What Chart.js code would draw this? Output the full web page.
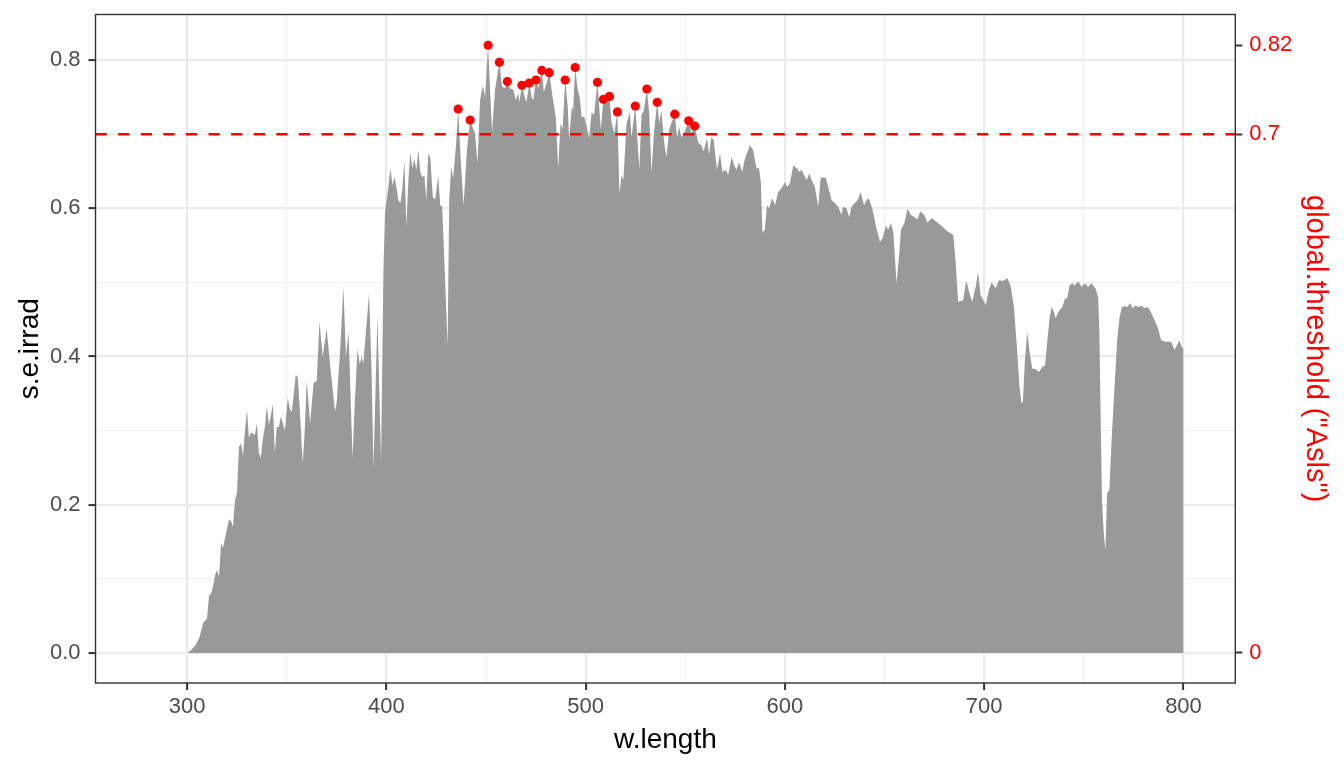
<!DOCTYPE html>
<html><head><meta charset="utf-8">
<script src="https://cdn.jsdelivr.net/npm/chart.js@4.4.1/dist/chart.umd.min.js"></script>
<style>html,body{margin:0;padding:0;background:#fff;}</style>
</head><body>
<canvas id="c" width="1344" height="768"></canvas>
<script>
// ---- data ----
const wavelength = [280,300,302,304,306,308,310,311,312,313,314,315,316,317,318,319,321,322,323,324,325,326,327,328,329,330,331,332,333,334,335,336,337,338,339,340,341,342,343,344,345,346,347,348,349,350.5,351.5,352.5,353.5,354.5,355.5,356.5,358,359,360,361.7,363.4,365,366.4,368,370,372,374.2,375,376.7,378.4,379.7,381,383,384,385.5,386.6,387.6,388.4,389.6,391.3,392.5,393.5,395.5,397.3,398.5,399.3,400.8,402,403,404,405,406,407,408,409,410,411,412,413,414,415,416,417,418,419,420,421,422,423.3,424.5,426,427,428,429,430.7,431.5,432.5,433.5,435,436,437.5,438.7,440.4,442,443.4,444.5,445.7,447,448.4,449.5,451,453,454.5,456.7,458,459.5,460.7,462,463.7,465,466.2,466.7,468,469.5,470.3,471.7,473,473.7,475,476.2,478,479,480.4,481.7,483.4,485,486.2,487.4,488.4,489.7,491,491.7,493,493.7,494.7,496,497,498,499.2,500.5,501.7,503,504.2,505.9,507.6,508.9,510.1,511.9,513,514.4,515.9,516.9,518,518.9,520.5,522.2,523,524.9,526.9,528,529.2,530.7,531.9,533,534.3,535.9,536.9,538,539.4,540.5,541.9,543,544.7,545.9,546.9,548,549.7,551.7,553,554.7,556.4,558,559.2,560.9,561.9,563,564.2,565.9,567.4,568.7,570.4,571.5,573.2,574.5,575.7,577,578.5,579.9,582.4,584,585.7,587,587.9,588.7,589.9,591,592,593.6,595,596.6,598.3,600,601.2,602.5,604.2,605.9,607.2,608.4,609.6,610.9,612.2,613.4,615,616.7,617.9,619.2,620.5,621.7,623.4,625,626.7,628.4,629.2,630.9,632.2,633.4,635,636.4,638,639.7,641,642,644,645.7,647.7,649,650.7,651.7,653.2,654.4,656,657.4,658.2,659.9,661.5,663.2,664.9,666.5,667.9,669.9,671.5,673.7,676.5,679,681.5,684.5,685.7,686.9,688.2,689.4,691,692.4,694,695.7,696.9,698.2,700.7,702.4,703.7,705.7,707.4,709.4,711.5,713.2,714.9,716.5,717.7,718.7,719.4,720.4,721.6,722.8,724.1,725.8,727.5,729.1,730.5,731.7,732.8,733.8,735,735.8,737.2,739.2,740.5,741.7,742.8,744.1,745.5,747.1,748.8,750.5,752.1,753.8,755.8,757.2,757.8,758.3,759.1,760,760.8,761.7,762.8,764.1,765.5,766.7,767.9,769.1,770.5,771.7,773.3,774.5,775.8,777.5,778.8,780.5,782.1,783.8,785.5,787.2,788.8,790.8,792.5,793.8,795.5,796.7,797.9,799.2,800];
const irradiance = [0,0,0.004,0.01,0.02,0.04,0.047,0.078,0.08,0.09,0.105,0.112,0.103,0.148,0.142,0.155,0.18,0.178,0.17,0.206,0.216,0.278,0.283,0.266,0.3,0.328,0.29,0.298,0.296,0.294,0.31,0.27,0.263,0.29,0.305,0.333,0.308,0.32,0.336,0.27,0.305,0.305,0.319,0.31,0.3,0.344,0.33,0.325,0.35,0.375,0.372,0.33,0.256,0.3,0.368,0.31,0.364,0.367,0.447,0.4,0.437,0.382,0.326,0.337,0.405,0.494,0.4,0.433,0.263,0.33,0.41,0.39,0.4,0.39,0.43,0.485,0.386,0.25,0.455,0.26,0.517,0.595,0.625,0.654,0.631,0.642,0.629,0.611,0.607,0.627,0.665,0.575,0.638,0.676,0.654,0.667,0.652,0.679,0.649,0.642,0.645,0.611,0.674,0.669,0.615,0.612,0.644,0.604,0.602,0.534,0.415,0.611,0.656,0.641,0.688,0.734,0.656,0.604,0.679,0.719,0.708,0.701,0.66,0.746,0.766,0.75,0.82,0.703,0.76,0.797,0.764,0.762,0.771,0.762,0.76,0.746,0.755,0.743,0.766,0.749,0.743,0.769,0.749,0.746,0.773,0.762,0.786,0.757,0.769,0.783,0.75,0.723,0.654,0.715,0.706,0.773,0.737,0.692,0.737,0.732,0.79,0.76,0.75,0.723,0.724,0.71,0.695,0.73,0.726,0.77,0.706,0.747,0.742,0.751,0.715,0.701,0.73,0.62,0.645,0.638,0.715,0.73,0.696,0.738,0.652,0.726,0.732,0.761,0.728,0.648,0.703,0.743,0.715,0.732,0.688,0.669,0.706,0.715,0.727,0.696,0.71,0.696,0.703,0.718,0.701,0.711,0.689,0.685,0.677,0.695,0.672,0.696,0.692,0.652,0.674,0.649,0.652,0.645,0.669,0.658,0.652,0.662,0.649,0.667,0.685,0.679,0.654,0.654,0.635,0.567,0.571,0.604,0.6,0.614,0.604,0.622,0.627,0.635,0.629,0.634,0.658,0.654,0.649,0.652,0.645,0.638,0.647,0.638,0.629,0.602,0.641,0.642,0.641,0.629,0.611,0.607,0.602,0.591,0.602,0.6,0.588,0.602,0.607,0.611,0.622,0.604,0.611,0.614,0.598,0.575,0.555,0.56,0.577,0.571,0.58,0.567,0.499,0.54,0.571,0.58,0.599,0.591,0.588,0.585,0.596,0.591,0.581,0.587,0.581,0.575,0.569,0.564,0.526,0.474,0.475,0.476,0.503,0.487,0.474,0.494,0.514,0.483,0.47,0.49,0.5,0.492,0.503,0.502,0.506,0.496,0.467,0.409,0.359,0.337,0.339,0.395,0.433,0.405,0.384,0.383,0.379,0.386,0.388,0.422,0.452,0.467,0.46,0.452,0.46,0.467,0.478,0.479,0.496,0.499,0.496,0.502,0.494,0.499,0.494,0.499,0.492,0.48,0.432,0.341,0.206,0.162,0.139,0.216,0.22,0.297,0.364,0.422,0.453,0.467,0.468,0.467,0.472,0.465,0.469,0.467,0.469,0.465,0.467,0.459,0.449,0.438,0.422,0.42,0.42,0.42,0.409,0.415,0.422,0.413,0.41];
const peakWavelength = [436,442,451,456.7,460.7,468,471.7,475,478,481.7,489.7,494.7,505.9,508.9,511.9,515.9,524.9,530.7,535.9,544.7,551.7,554.7];
const peakValue = [0.734,0.719,0.82,0.797,0.771,0.766,0.769,0.773,0.786,0.783,0.773,0.79,0.77,0.747,0.751,0.73,0.738,0.761,0.743,0.727,0.718,0.711];
const threshold = 0.7;
const xMajor = [300,400,500,600,700,800];
const xMinor = [350,450,550,650,750];
const yMajor = [0,0.2,0.4,0.6,0.8];
const yMinor = [0.1,0.3,0.5,0.7];
const rightTicks = [0,0.7,0.82];

// ---- chart ----
Chart.defaults.font.family = "'Liberation Sans', Arial, sans-serif";
const specData = wavelength.map((w,i)=>({x:w,y:irradiance[i]}));
const peakData = peakWavelength.map((w,i)=>({x:w,y:peakValue[i]}));
const X_MIN = 254, X_MAX = 826, Y_MIN = -0.0405, Y_MAX = 0.8615;
const hlineData = [{x:X_MIN,y:threshold},{x:X_MAX,y:threshold}];

const tickify = arr => arr.slice().sort((a,b)=>a-b).map(v=>({value:v}));
const isMajorX = v => xMajor.includes(v);
const isMajorY = v => yMajor.includes(v);
const noPad = s => { s.paddingTop = 0; s.paddingBottom = 0; s.paddingLeft = 0; s.paddingRight = 0; };

const borderPlugin = {
  id:'panelBorder',
  afterDraw(chart){
    const {ctx, chartArea:a} = chart;
    ctx.save();
    ctx.strokeStyle = '#333333';
    ctx.lineWidth = 1.4;
    ctx.strokeRect(a.left, a.top, a.right-a.left, a.bottom-a.top);
    ctx.restore();
  }
};

new Chart(document.getElementById('c'), {
  type:'line',
  data:{datasets:[
    {label:'peaks', data:peakData, showLine:false, pointRadius:4.6, pointBackgroundColor:'#FF0000', pointBorderColor:'#FF0000', pointBorderWidth:0, order:0, yAxisID:'y'},
    {label:'threshold', data:hlineData, borderColor:'#FF0000', borderWidth:2.6, borderDash:[11.3,11.3], pointRadius:0, fill:false, order:1, yAxisID:'y'},
    {label:'s.e.irrad', data:specData, borderColor:'rgba(0,0,0,0)', borderWidth:0, backgroundColor:'#999999', fill:'origin', pointRadius:0, tension:0, order:2, yAxisID:'y'}
  ]},
  options:{
    responsive:false, animation:false, devicePixelRatio:1,
    layout:{padding:{top:14.5,left:0,right:0,bottom:0}},
    plugins:{legend:{display:false}, tooltip:{enabled:false}},
    scales:{
      x:{type:'linear', min:X_MIN, max:X_MAX,
        afterBuildTicks: s => { s.ticks = tickify(xMajor.concat(xMinor)); },
        afterFit: s => { s.height = 85; noPad(s); },
        border:{display:false},
        grid:{
          color: c => isMajorX(c.tick && c.tick.value) ? '#EBEBEB' : '#EFEFEF',
          lineWidth: c => isMajorX(c.tick && c.tick.value) ? 2.2 : 1.1,
          tickColor: c => isMajorX(c.tick && c.tick.value) ? '#333333' : 'rgba(0,0,0,0)',
          tickLength:7, tickWidth:2, drawTicks:true
        },
        ticks:{autoSkip:false, maxRotation:0, padding:4, color:'#4D4D4D', font:{size:22},
          callback: v => isMajorX(v) ? String(v) : ''},
        title:{display:true, text:'w.length', color:'#000000', font:{size:28}, padding:{top:0,bottom:11}}
      },
      y:{type:'linear', position:'left', min:Y_MIN, max:Y_MAX,
        afterBuildTicks: s => { s.ticks = tickify(yMajor.concat(yMinor)); },
        afterFit: s => { s.width = 95.5; noPad(s); },
        border:{display:false},
        grid:{
          color: c => isMajorY(c.tick && c.tick.value) ? '#EBEBEB' : '#EFEFEF',
          lineWidth: c => isMajorY(c.tick && c.tick.value) ? 2.2 : 1.1,
          tickColor: c => isMajorY(c.tick && c.tick.value) ? '#333333' : 'rgba(0,0,0,0)',
          tickLength:7, tickWidth:2, drawTicks:true
        },
        ticks:{autoSkip:false, padding:8, color:'#4D4D4D', font:{size:22},
          callback: v => isMajorY(v) ? v.toFixed(1) : ''},
        title:{display:true, text:'s.e.irrad', color:'#000000', font:{size:28}, padding:{top:13,bottom:0}}
      },
      yR:{type:'linear', position:'right', min:Y_MIN, max:Y_MAX,
        afterBuildTicks: s => { s.ticks = tickify(rightTicks); },
        afterFit: s => { s.width = 108.7; noPad(s); },
        border:{display:false},
        grid:{drawOnChartArea:false, drawTicks:true, tickLength:7, tickWidth:2, tickColor:'#333333', color:'#333333'},
        ticks:{autoSkip:false, padding:7, color:'#FF0000', font:{size:22}, callback: v => String(v)},
        title:{display:true, text:'global.threshold ("Asls")', color:'#FF0000', font:{size:29}, padding:{top:12,bottom:0}}
      }
    }
  },
  plugins:[borderPlugin]
});
</script>
</body></html>
